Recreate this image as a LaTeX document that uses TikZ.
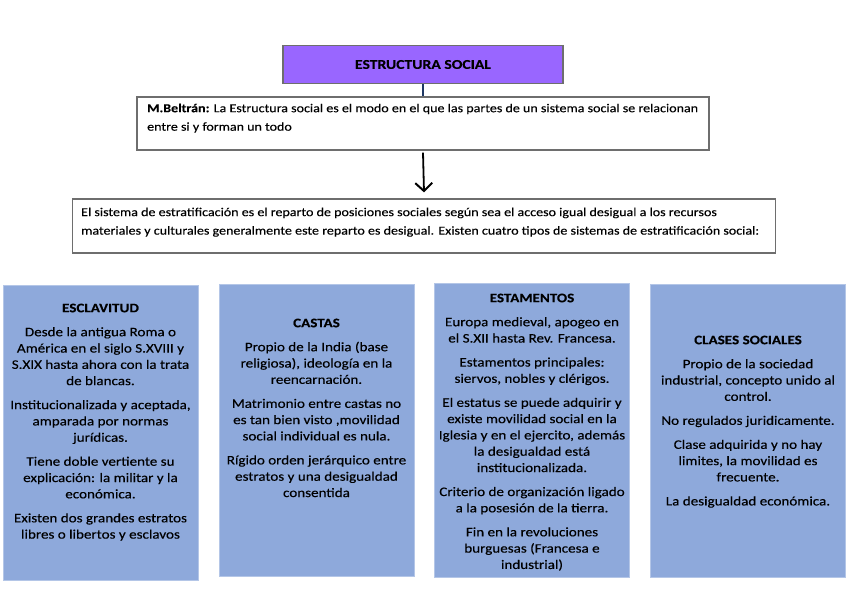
\documentclass[tikz,border=0pt]{standalone}
\usepackage{fontspec}
\setmainfont{Carlito}[FakeStretch=1.16, FakeBold=0.25]
\usetikzlibrary{arrows.meta}
\definecolor{boxblue}{RGB}{142,169,219}
\definecolor{boxblueedge}{RGB}{180,198,231}
\definecolor{titlepurple}{RGB}{153,102,255}
\definecolor{edgegray}{RGB}{110,110,110}
\definecolor{linknavy}{RGB}{31,56,100}
\tikzset{
  x=1pt, y=-1pt,
  titlebox/.style={draw=edgegray, line width=1.4pt, fill=titlepurple, inner sep=0pt, minimum width=280pt, minimum height=38pt, font=\fontsize{13.5}{16}\selectfont\bfseries},
  whitebox/.style={draw=edgegray, line width=1.3pt, fill=white, inner sep=0pt},
  whitetext/.style={anchor=north west, inner sep=0pt, align=left, font=\fontsize{12.1}{18.5}\selectfont},
  bluebox/.style={draw=boxblueedge, line width=0.8pt, fill=boxblue, inner sep=0pt, minimum width=195pt},
  bluetext/.style={anchor=north, inner sep=0pt, align=center, font=\fontsize{13}{16.3}\selectfont},
  link/.style={draw=linknavy, line width=2pt},
  arrowlink/.style={draw=black, line width=1.8pt, -{Straight Barb[length=8pt,width=17pt,line width=2pt]}}
}
\begin{document}
\begin{tikzpicture}
\useasboundingbox (0,0) rectangle (848,599);
% title
\node[titlebox] (title) at (423,64.5) {ESTRUCTURA SOCIAL};
% definition
\node[whitebox, minimum width=572pt, minimum height=53pt] (def) at (423,123.5) {};
\node[whitetext] (deftext) at (147,103.5) {\textbf{M.Beltrán:} La Estructura social es el modo en el que las partes de un sistema social se relacionan\\entre si y forman un todo};
% stratification
\node[whitebox, minimum width=703pt, minimum height=54pt] (strat) at (424,226) {};
\node[whitetext] (strattext) at (81,207.5) {El sistema de estratificación es el reparto de posiciones sociales según sea el acceso igual desigual a los recursos\\materiales y culturales generalmente este reparto es desigual. Existen cuatro tipos de sistemas de estratificación social:};
% connectors
\draw[link] (title.south) -- (def.north);
\draw[arrowlink] ([yshift=-2pt]def.south) -- ([yshift=6pt]strat.north);
% blue boxes
\node[bluebox, minimum height=295pt] (esc) at (100.5,432.5) {};
\node[bluebox, minimum height=292pt] (cas) at (316.5,430.5) {};
\node[bluebox, minimum height=294pt] (est) at (532,430) {};
\node[bluebox, minimum height=293pt] (cla) at (748,430.5) {};

\node[bluetext] (esctext) at (100.5,303.5) {\textbf{ESCLAVITUD}\\[7.7pt]
Desde la antigua Roma o\\América en el siglo S.XVIII y\\S.XIX hasta ahora con la trata\\de blancas.\\[7.7pt]
Institucionalizada y aceptada,\\amparada por normas\\jurídicas.\\[7.7pt]
Tiene doble vertiente su\\explicación: la militar y la\\económica.\\[7.7pt]
Existen dos grandes estratos\\libres o libertos y esclavos};

\node[bluetext] (castext) at (316.5,318.5) {\textbf{CASTAS}\\[7.7pt]
Propio de la India (base\\religiosa), ideología en la\\reencarnación.\\[7.7pt]
Matrimonio entre castas no\\es tan bien visto ,movilidad\\social individual es nula.\\[7.7pt]
Rígido orden jerárquico entre\\estratos y una desigualdad\\consentida};

\node[bluetext] (esttext) at (532,293.5) {\textbf{ESTAMENTOS}\\[7.7pt]
Europa medieval, apogeo en\\el S.XII hasta Rev. Francesa.\\[7.7pt]
Estamentos principales:\\siervos, nobles y clérigos.\\[7.7pt]
El estatus se puede adquirir y\\existe movilidad social en la\\Iglesia y en el ejercito, además\\la desigualdad está\\institucionalizada.\\[7.7pt]
Criterio de organización ligado\\a la posesión de la tierra.\\[7.7pt]
Fin en la revoluciones\\burguesas (Francesa e\\industrial)};

\node[bluetext] (clatext) at (748,335.5) {\textbf{CLASES SOCIALES}\\[7.7pt]
Propio de la sociedad\\industrial, concepto unido al\\control.\\[7.7pt]
No regulados juridicamente.\\[7.7pt]
Clase adquirida y no hay\\limites, la movilidad es\\frecuente.\\[7.7pt]
La desigualdad económica.};
\end{tikzpicture}
\end{document}
